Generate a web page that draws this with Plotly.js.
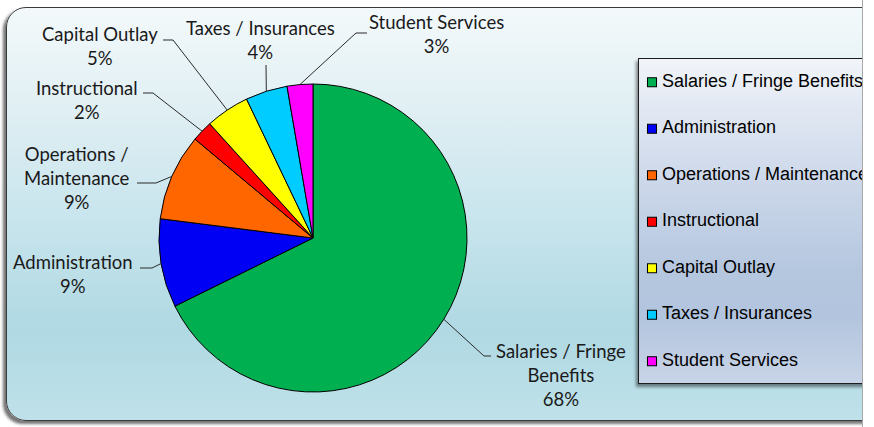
<!DOCTYPE html>
<html>
<head>
<meta charset="utf-8">
<script src="https://cdn.plot.ly/plotly-3.0.1.min.js"></script>
<style>
  html, body { margin:0; padding:0; background:#ffffff; width:874px; height:427px; overflow:hidden; }
  #wrap { position:absolute; left:0; top:0; width:862px; height:427px; overflow:hidden; border-right:1px solid #a8a8a8; }
  #frame { position:absolute; left:6px; top:7px; width:920px; height:412px; border:1.5px solid #3a3a3a; border-radius:20px;
           background:linear-gradient(to bottom, #f3f9fb 0%, #e2f0f4 22%, #c9e5ed 50%, #b0d9e3 78%, #bfe1e9 100%);
           box-shadow:-3px 3px 3px rgba(0,0,0,0.55); }
  #legbox { position:absolute; left:638px; top:58px; width:300px; height:324px; border:1px solid #1e1e1e;
            background:linear-gradient(to bottom, #f1f4f9 0%, #d3dded 30%, #b5c7df 65%, #b3c5de 80%, #c8d4e7 100%);
            box-shadow:-2px 3px 3px rgba(0,0,0,0.45); }
  #plot { position:absolute; left:0; top:0; width:874px; height:427px; }
  #plot .legendpie { transform: translate(30px, 0px) scale(0.75); stroke-width: 1.4px !important; }
</style>
</head>
<body>
<div id="wrap">
  <div id="frame"></div>
  <div id="legbox"></div>
  <div id="plot"></div>
</div>
<script>
// ---- data ----
const categories = ["Salaries / Fringe Benefits", "Administration", "Operations / Maintenance",
                    "Instructional", "Capital Outlay", "Taxes / Insurances", "Student Services"];
const values = [67.7, 9.3, 9.1, 2.2, 4.6, 4.4, 2.7];
const labelText = ["Salaries / Fringe<br>Benefits", "Administration", "Operations /<br>Maintenance",
                   "Instructional", "Capital Outlay", "Taxes / Insurances", "Student Services"];
const colors = ["#00b050", "#0000f5", "#ff6600", "#ff0000", "#ffff00", "#00ccff", "#ff00ff"];

// ---- layout (pixels) ----
const W = 874, H = 427;
const CX = 313, CY = 238, R = 154;
// label block centre and leader-line start / elbow (pixels)
const labelPos = [[561, 375], [73, 274], [77, 178], [87, 100], [100, 46], [260, 40], [436, 34]];
const leaderStart = [[491, 356], [140, 268], [137, 183], [143, 93], [163, 40], [266, 65], [367, 33]];
const leaderElbow = [[484, 356], [152, 268], [156, 183], [153, 93], [173, 40], [266, 65], [356, 33]];

const px = x => x / W;
const py = y => 1 - y / H;

const total = values.reduce((a, b) => a + b, 0);
const legendLabels = categories.map(c => '\u00a0<br><span style="font-size:18px">' + c + '</span><br>\u00a0');

const trace = {
  type: 'pie',
  labels: legendLabels,
  values: values,
  sort: false,
  direction: 'clockwise',
  rotation: 0,
  textinfo: 'none',
  hoverinfo: 'none',
  marker: { colors: colors, line: { color: '#000000', width: 1 } },
  domain: { x: [px(CX - R), px(CX + R)], y: [py(CY + R), py(CY - R)] }
};

const annotations = [];
const shapes = [];
let cum = 0;
values.forEach((v, i) => {
  const mid = (cum + v / 2) / total;
  cum += v;
  const ang = mid * 2 * Math.PI;
  const ex = CX + R * Math.sin(ang);
  const ey = CY - R * Math.cos(ang);
  const pct = Math.round(100 * v / total) + '%';
  annotations.push({
    xref: 'paper', yref: 'paper', x: px(labelPos[i][0]), y: py(labelPos[i][1]),
    xanchor: 'center', yanchor: 'middle', showarrow: false, align: 'center',
    text: labelText[i] + '<br>' + pct,
    font: { family: 'Lato, sans-serif', size: 18.5, color: '#1a1a1a' }
  });
  const s = leaderStart[i], e = leaderElbow[i];
  shapes.push({
    type: 'path', xref: 'paper', yref: 'paper',
    path: 'M ' + px(s[0]) + ' ' + py(s[1]) + ' L ' + px(e[0]) + ' ' + py(e[1]) + ' L ' + px(ex) + ' ' + py(ey),
    line: { color: '#2a2a2a', width: 1 }
  });
});

const layout = {
  width: W, height: H,
  margin: { l: 0, r: 0, t: 0, b: 0, autoexpand: false },
  paper_bgcolor: 'rgba(0,0,0,0)',
  plot_bgcolor: 'rgba(0,0,0,0)',
  showlegend: true,
  legend: {
    x: px(622), xanchor: 'left', y: py(54), yanchor: 'top',
    bgcolor: 'rgba(0,0,0,0)', borderwidth: 0,
    font: { family: 'Liberation Sans, Arial, sans-serif', size: 11.154, color: '#000000' }
  },
  annotations: annotations,
  shapes: shapes
};

Plotly.newPlot('plot', [trace], layout, { staticPlot: true, displayModeBar: false });
</script>
</body>
</html>
